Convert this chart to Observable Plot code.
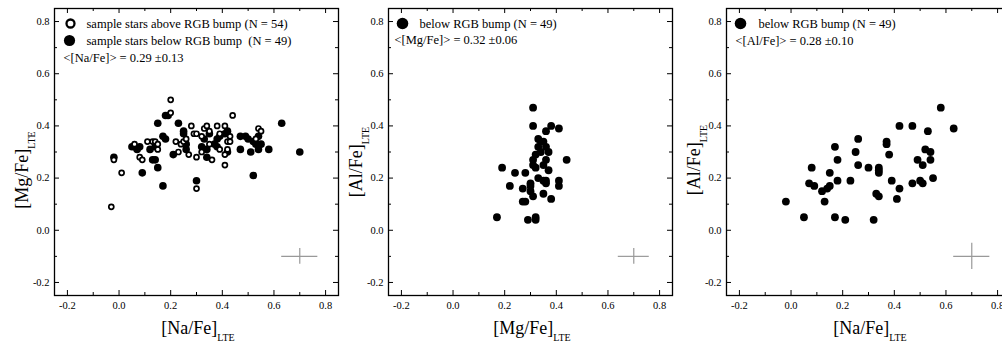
<!DOCTYPE html>
<html><head><meta charset="utf-8">
<script src="https://cdn.jsdelivr.net/npm/d3@7"></script>
<script src="https://cdn.jsdelivr.net/npm/@observablehq/plot@0.6"></script>
<style>
body{margin:0;background:#fff;}
#wrap{position:relative;width:1002px;height:343px;overflow:hidden;background:#fff;}
#wrap svg{position:absolute;top:0;overflow:visible;}
#wrap svg text{font-family:'Liberation Serif','Times New Roman',serif;}
</style></head><body><div id="wrap"></div>
<script>
// Panel 1: [Na/Fe] vs [Mg/Fe]
const aboveNa = [-0.03,-0.02,0.01,0.06,0.08,0.09,0.11,0.13,0.14,0.15,0.15,0.20,0.20,0.22,0.23,0.24,0.25,0.26,0.27,0.28,0.29,0.30,0.30,0.30,0.32,0.32,0.33,0.34,0.35,0.35,0.36,0.38,0.39,0.39,0.41,0.41,0.41,0.42,0.42,0.43,0.43,0.44,0.53,0.54,0.55];
const aboveMg = [0.09,0.27,0.22,0.33,0.28,0.27,0.34,0.34,0.34,0.31,0.33,0.50,0.45,0.34,0.30,0.33,0.34,0.35,0.29,0.40,0.37,0.37,0.28,0.16,0.36,0.30,0.39,0.40,0.38,0.33,0.27,0.40,0.37,0.31,0.40,0.29,0.25,0.31,0.34,0.36,0.34,0.44,0.35,0.39,0.38];
const belowNa = [-0.02,0.05,0.06,0.07,0.08,0.09,0.12,0.13,0.14,0.14,0.15,0.15,0.17,0.17,0.18,0.18,0.19,0.21,0.23,0.25,0.25,0.26,0.26,0.30,0.32,0.33,0.34,0.34,0.35,0.37,0.38,0.38,0.39,0.41,0.42,0.42,0.47,0.47,0.49,0.50,0.51,0.52,0.52,0.53,0.54,0.54,0.55,0.58,0.63,0.70];
const belowMg = [0.28,0.32,0.32,0.31,0.32,0.22,0.31,0.27,0.27,0.32,0.41,0.24,0.17,0.36,0.35,0.44,0.44,0.29,0.41,0.38,0.37,0.33,0.31,0.19,0.32,0.35,0.31,0.28,0.37,0.33,0.32,0.35,0.36,0.37,0.38,0.30,0.36,0.31,0.36,0.35,0.30,0.34,0.21,0.33,0.31,0.36,0.33,0.31,0.41,0.30];
// Panel 2: [Mg/Fe] vs [Al/Fe] (below bump)
const p2Mg = [0.17,0.19,0.22,0.24,0.27,0.27,0.28,0.28,0.29,0.30,0.30,0.30,0.31,0.31,0.31,0.31,0.31,0.32,0.32,0.32,0.32,0.33,0.33,0.33,0.34,0.34,0.35,0.35,0.35,0.35,0.36,0.36,0.36,0.36,0.36,0.37,0.37,0.38,0.38,0.41,0.41,0.41,0.44];
const p2Al = [0.05,0.24,0.17,0.22,0.16,0.11,0.22,0.11,0.04,0.18,0.15,0.17,0.13,0.27,0.25,0.40,0.47,0.29,0.24,0.05,0.04,0.20,0.35,0.32,0.30,0.34,0.19,0.14,0.25,0.34,0.32,0.38,0.27,0.18,0.19,0.30,0.23,0.12,0.40,0.39,0.19,0.17,0.27];
// Panel 3: [Na/Fe] vs [Al/Fe] (below bump)
const p3Na = [-0.02,0.05,0.07,0.08,0.09,0.12,0.13,0.14,0.15,0.15,0.17,0.17,0.18,0.18,0.21,0.23,0.25,0.26,0.26,0.30,0.32,0.33,0.34,0.34,0.34,0.34,0.37,0.37,0.38,0.39,0.41,0.42,0.42,0.47,0.47,0.49,0.50,0.51,0.51,0.52,0.53,0.54,0.54,0.55,0.58,0.63];
const p3Al = [0.11,0.05,0.18,0.24,0.17,0.15,0.11,0.16,0.17,0.22,0.32,0.05,0.27,0.19,0.04,0.19,0.30,0.35,0.25,0.24,0.04,0.14,0.13,0.24,0.23,0.22,0.34,0.33,0.29,0.19,0.12,0.40,0.16,0.40,0.18,0.27,0.19,0.18,0.25,0.31,0.38,0.30,0.27,0.20,0.47,0.39];

// typical error crosses
const errX = [0.7, 0.7, 0.7];
const errY = [-0.1, -0.1, -0.1];
const errXe = [0.07, 0.06, 0.07];
const errYe = [0.03, 0.03, 0.05];

const majorTicks = [-0.2, 0.0, 0.2, 0.4, 0.6, 0.8];
const minorTicks = [-0.1, 0.1, 0.3, 0.5, 0.7];
const xNames = ["Na/Fe", "Mg/Fe", "Na/Fe"];
const yNames = ["Mg/Fe", "Al/Fe", "Al/Fe"];
const legendP1 = ["sample stars above RGB bump (N = 54)", "sample stars below RGB bump  (N = 49)", "<[Na/Fe]> = 0.29 \u00b10.13"];
const legendP2 = ["below RGB bump (N = 49)", "<[Mg/Fe]> = 0.32 \u00b10.06"];
const legendP3 = ["below RGB bump (N = 49)", "<[Al/Fe]> = 0.28 \u00b10.10"];

const domain = [-0.25, 0.85];
const W = 340, H = 343, ML = 54, MR = 2, MT = 8, MB = 48;
const FW = W - ML - MR, FH = H - MT - MB;
const FONT = "'Liberation Serif', 'Times New Roman', serif";
const fmt = d => d.toFixed(1);

function tickMarks() {
  const sw = 1;
  return [
    Plot.tickX(majorTicks, {x: d => d, insetTop: FH - 5, stroke: "#000", strokeWidth: sw}),
    Plot.tickX(minorTicks, {x: d => d, insetTop: FH - 3, stroke: "#000", strokeWidth: sw}),
    Plot.tickX(majorTicks, {x: d => d, insetBottom: FH - 5, stroke: "#000", strokeWidth: sw}),
    Plot.tickX(minorTicks, {x: d => d, insetBottom: FH - 3, stroke: "#000", strokeWidth: sw}),
    Plot.tickY(majorTicks, {y: d => d, insetRight: FW - 5, stroke: "#000", strokeWidth: sw}),
    Plot.tickY(minorTicks, {y: d => d, insetRight: FW - 3, stroke: "#000", strokeWidth: sw}),
    Plot.tickY(majorTicks, {y: d => d, insetLeft: FW - 5, stroke: "#000", strokeWidth: sw}),
    Plot.tickY(minorTicks, {y: d => d, insetLeft: FW - 3, stroke: "#000", strokeWidth: sw}),
    Plot.axisX(majorTicks, {anchor: "bottom", tickSize: 0, tickPadding: 6, tickFormat: fmt, label: null, fontSize: 10.5, fontFamily: FONT, fill: "#000"}),
    Plot.axisY(majorTicks, {anchor: "left", tickSize: 0, tickPadding: 5, tickFormat: fmt, label: null, fontSize: 10.5, fontFamily: FONT, fill: "#000"}),
    Plot.frame({stroke: "#000", strokeWidth: 1.3})
  ];
}

function errMarks(i) {
  const e = [{x: errX[i], y: errY[i], ex: errXe[i], ey: errYe[i]}];
  return [
    Plot.ruleY(e, {y: "y", x1: d => d.x - d.ex, x2: d => d.x + d.ex, stroke: "#999", strokeWidth: 1.2}),
    Plot.ruleX(e, {x: "x", y1: d => d.y - d.ey, y2: d => d.y + d.ey, stroke: "#999", strokeWidth: 1.2})
  ];
}

function txt(s, dx, dy) {
  return Plot.text([s], {text: d => d, frameAnchor: "top-left", dx, dy, textAnchor: "start", lineAnchor: "middle", fontSize: 12.5, fontFamily: FONT, fill: "#000"});
}

function makePlot(i, marks) {
  const svg = Plot.plot({
    width: W, height: H,
    marginLeft: ML, marginRight: MR, marginTop: MT, marginBottom: MB,
    x: {domain, label: null},
    y: {domain, label: null},
    style: {fontFamily: FONT, fontSize: "10.5px", color: "#000", background: "none", overflow: "visible"},
    marks: [...tickMarks(), ...errMarks(i), ...marks]
  });
  const s = d3.select(svg);
  const xl = s.append("text")
    .attr("x", ML + FW / 2 + 2).attr("y", 334)
    .attr("text-anchor", "middle").attr("font-size", 18).attr("fill", "#000")
    .style("font-family", FONT);
  xl.append("tspan").text(`[${xNames[i]}]`);
  xl.append("tspan").attr("font-size", 10).attr("dy", 7).text("LTE");
  const yc = [170, 162, 160][i];
  const yl = s.append("text")
    .attr("transform", `translate(${ML - 26},${yc}) rotate(-90)`)
    .attr("text-anchor", "middle").attr("font-size", 18).attr("fill", "#000")
    .style("font-family", FONT);
  yl.append("tspan").text(`[${yNames[i]}]`);
  yl.append("tspan").attr("font-size", 10).attr("dy", 7).text("LTE");
  svg.style.left = [0, 334, 672][i] + "px";
  document.getElementById("wrap").appendChild(svg);
}

// Panel 1
makePlot(0, [
  Plot.dot(belowNa, {x: belowNa, y: belowMg, r: 3.8, fill: "#000", stroke: "none"}),
  Plot.dot(aboveNa, {x: aboveNa, y: aboveMg, r: 2.5, fill: "#fff", stroke: "#000", strokeWidth: 1.7}),
  Plot.dot([0], {frameAnchor: "top-left", dx: 16, dy: 15, r: 4, fill: "#fff", stroke: "#000", strokeWidth: 2.3}),
  Plot.dot([0], {frameAnchor: "top-left", dx: 15, dy: 32, r: 5.6, fill: "#000", stroke: "none"}),
  txt(legendP1[0], 32, 15),
  txt(legendP1[1], 32, 32),
  txt(legendP1[2], 9, 49)
]);
// Panel 2
makePlot(1, [
  Plot.dot(p2Mg, {x: p2Mg, y: p2Al, r: 3.9, fill: "#000", stroke: "none"}),
  Plot.dot([0], {frameAnchor: "top-left", dx: 14, dy: 15, r: 5.8, fill: "#000", stroke: "none"}),
  txt(legendP2[0], 31, 15),
  txt(legendP2[1], 6, 31)
]);
// Panel 3
makePlot(2, [
  Plot.dot(p3Na, {x: p3Na, y: p3Al, r: 3.9, fill: "#000", stroke: "none"}),
  Plot.dot([0], {frameAnchor: "top-left", dx: 14, dy: 15, r: 5.8, fill: "#000", stroke: "none"}),
  txt(legendP3[0], 32, 15),
  txt(legendP3[1], 9, 32)
]);
</script></body></html>
